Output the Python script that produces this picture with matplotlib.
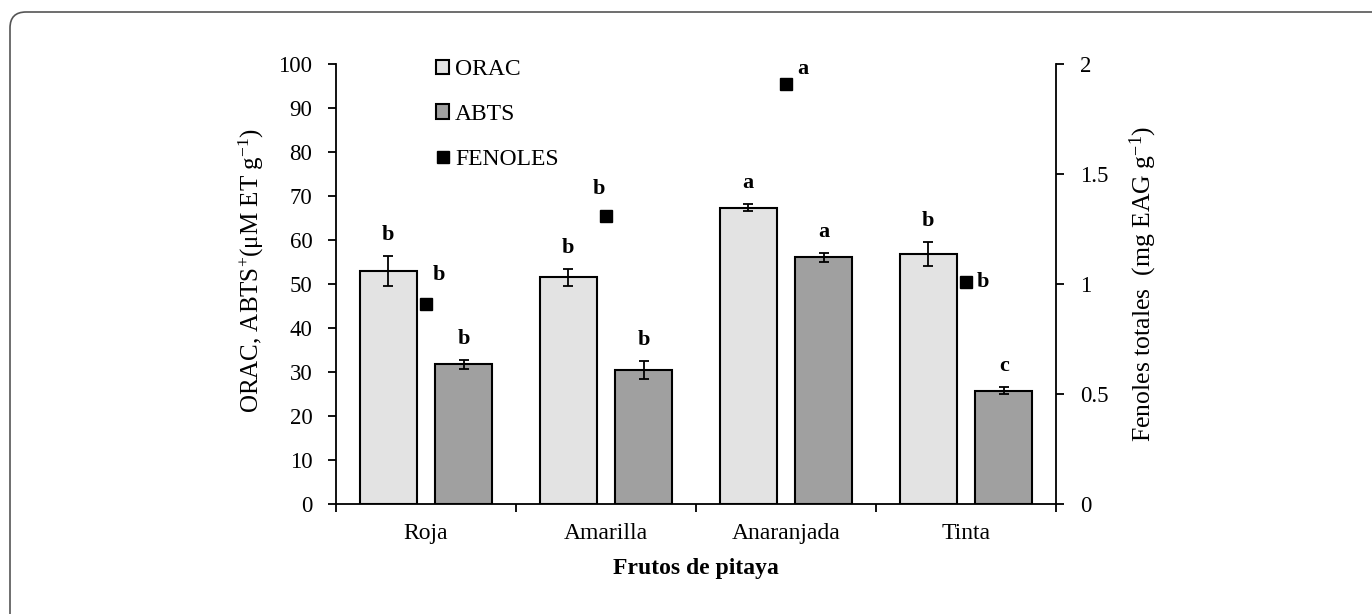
import numpy as np
import matplotlib
matplotlib.use('Agg')
import matplotlib.pyplot as plt
from matplotlib.patches import FancyBboxPatch
from matplotlib.ticker import FixedLocator, NullFormatter

plt.rcParams['font.family'] = ['Liberation Serif', 'DejaVu Serif']
plt.rcParams['mathtext.fontset'] = 'custom'
plt.rcParams['mathtext.rm'] = 'Liberation Serif'
plt.rcParams['mathtext.it'] = 'Liberation Serif:italic'
plt.rcParams['mathtext.bf'] = 'Liberation Serif:bold'

# datos
frutos = ['Roja', 'Amarilla', 'Anaranjada', 'Tinta']
orac = [53.0, 51.5, 67.3, 56.8]
orac_err = [3.4, 1.9, 0.8, 2.8]
abts = [31.7, 30.4, 56.1, 25.7]
abts_err = [1.0, 2.1, 1.0, 0.8]
fenoles = [0.91, 1.31, 1.91, 1.01]
letras_orac = ['b', 'b', 'a', 'b']
letras_abts = ['b', 'b', 'a', 'c']
letras_fen = ['b', 'b', 'a', 'b']

# desplazamiento de las letras de fenoles (puntos)
off_fen = [(9, 21), (-5, 19), (12, 11), (12, 0)]

fig = plt.figure(figsize=(13.72, 6.14), dpi=100)
ax = fig.add_axes([0.2449, 0.1792, 0.5248, 0.7166])
ax2 = ax.twinx()

x = np.arange(len(frutos)) + 0.5
w = 0.317
off = 0.21

ax.bar(x - off, orac, width=w, color='#E3E3E3', edgecolor='black', linewidth=1.5, label='ORAC', zorder=2)
ax.errorbar(x - off, orac, yerr=orac_err, fmt='none', ecolor='black', elinewidth=1.3, capsize=3.5, capthick=1.3, zorder=3)
ax.bar(x + off, abts, width=w, color='#A0A0A0', edgecolor='black', linewidth=1.5, label='ABTS', zorder=2)
ax.errorbar(x + off, abts, yerr=abts_err, fmt='none', ecolor='black', elinewidth=1.3, capsize=3.5, capthick=1.3, zorder=3)

for i in range(len(frutos)):
    ax.annotate(letras_orac[i], (x[i] - off, orac[i] + orac_err[i]), xytext=(0, 8), textcoords='offset points',
                ha='center', va='bottom', fontsize=16, fontweight='bold')
    ax.annotate(letras_abts[i], (x[i] + off, abts[i] + abts_err[i]), xytext=(0, 8), textcoords='offset points',
                ha='center', va='bottom', fontsize=16, fontweight='bold')

ax2.plot(x, fenoles, linestyle='none', marker='s', markersize=8.5, color='black', label='FENOLES', zorder=4)
for i in range(len(frutos)):
    ax2.annotate(letras_fen[i], (x[i], fenoles[i]), xytext=off_fen[i], textcoords='offset points',
                 ha='center', va='center', fontsize=16, fontweight='bold')

ax.set_xlim(0, len(frutos))
ax.set_ylim(0, 100)
ax.set_yticks(np.arange(0, 101, 10))
ax2.set_ylim(0, 2)
ax2.set_yticks([0, 0.5, 1, 1.5, 2])
ax2.set_yticklabels(['0', '0.5', '1', '1.5', '2'])

# ticks de categoria en los limites, etiquetas en el centro
ax.xaxis.set_major_locator(FixedLocator(np.arange(len(frutos) + 1)))
ax.xaxis.set_major_formatter(NullFormatter())
ax.set_xticks(x, minor=True)
ax.set_xticklabels(frutos, minor=True)
ax.tick_params(axis='x', which='minor', length=0, pad=14, labelsize=17)
ax.tick_params(axis='x', which='major', length=6, width=1.3, direction='out')
ax.tick_params(axis='y', length=6, width=1.3, labelsize=16.5, pad=11)
ax2.tick_params(axis='y', length=6, width=1.3, labelsize=16.5, pad=11)

for a in (ax, ax2):
    a.spines['top'].set_visible(False)
    for s in ('left', 'right', 'bottom'):
        a.spines[s].set_linewidth(1.3)
ax.spines['right'].set_visible(False)
ax2.spines['left'].set_visible(False)
ax2.spines['bottom'].set_visible(False)

ax.set_ylabel('ORAC, ABTS$^{\\mathregular{+}}$(μM ET g$^{\\mathregular{-1}}$)', fontsize=18)
ax.yaxis.set_label_coords(-0.097, 0.53)
ax2.set_ylabel('Fenoles totales  (mg EAG g$^{-1}$)', fontsize=18.5, labelpad=14)
ax.set_xlabel('Frutos de pitaya', fontsize=17, fontweight='bold', labelpad=10)

h1, l1 = ax.get_legend_handles_labels()
h2, l2 = ax2.get_legend_handles_labels()
leg = ax.legend(h1 + h2, l1 + l2, loc='upper left', bbox_to_anchor=(0.126, 1.032), frameon=False,
                fontsize=17, handlelength=0.55, handleheight=0.55, handletextpad=0.25, labelspacing=1.0,
                borderaxespad=0)

# marco redondeado (solo se ven los bordes superior e izquierdo)
frame = FancyBboxPatch((0.10, -0.5), 14.0, 6.52, boxstyle='round,pad=0,rounding_size=0.16',
                       transform=fig.dpi_scale_trans, facecolor='none', edgecolor='#555555', linewidth=1.2)
fig.patches.append(frame)

fig.savefig('out.png', dpi=100)
